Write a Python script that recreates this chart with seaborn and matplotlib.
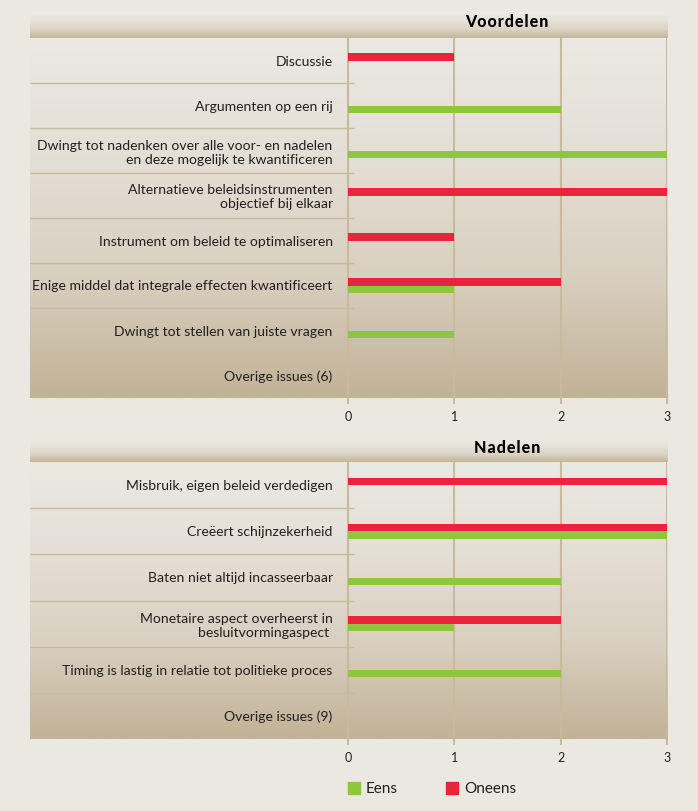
import numpy as np
import pandas as pd
import matplotlib.pyplot as plt
from matplotlib.colors import LinearSegmentedColormap
from matplotlib.patches import Patch
import seaborn as sns

voordelen_labels = [
    'Discussie',
    'Argumenten op een rij',
    'Dwingt tot nadenken over alle voor- en nadelen\nen deze mogelijk te kwantificeren',
    'Alternatieve beleidsinstrumenten\nobjectief bij elkaar',
    'Instrument om beleid te optimaliseren',
    'Enige middel dat integrale effecten kwantificeert',
    'Dwingt tot stellen van juiste vragen',
    'Overige issues (6)',
]
voordelen_eens = [0, 2, 3, 0, 0, 1, 1, 0]
voordelen_oneens = [1, 0, 0, 3, 1, 2, 0, 0]

nadelen_labels = [
    'Misbruik, eigen beleid verdedigen',
    'Creëert schijnzekerheid',
    'Baten niet altijd incasseerbaar',
    'Monetaire aspect overheerst in\nbesluitvormingaspect ',
    'Timing is lastig in relatie tot politieke proces',
    'Overige issues (9)',
]
nadelen_eens = [0, 3, 2, 1, 2, 0]
nadelen_oneens = [3, 3, 0, 2, 0, 0]

x_ticks = [0, 1, 2, 3]

W, H = 698, 811
BG = '#EAE8E1'
LINE = '#C9BA9E'
GREEN = '#8DC63F'
RED = '#E8253A'
TEXT = '#231F20'

plt.rcParams['font.family'] = ['Lato', 'DejaVu Sans']
plt.rcParams['text.color'] = TEXT

body_cmap = LinearSegmentedColormap.from_list('body', ['#EBE9E3', '#E4DFD5', '#D8CFBF', '#C2B296'])
head_cmap = LinearSegmentedColormap.from_list('head', ['#ECEAE4', '#E6E2D9', '#DBD3C4', '#C4B59A'])
grad = np.linspace(0, 1, 256).reshape(-1, 1)


def box(x0, y0, x1, y1):
    return [x0 / W, 1 - y1 / H, (x1 - x0) / W, (y1 - y0) / H]


def spaced(s):
    return '\u200a'.join(s)


fig = plt.figure(figsize=(W / 100, H / 100), dpi=100, facecolor=BG)


def draw_panel(title, labels, eens, oneens, top, row_h, head_h):
    n = len(labels)
    bottom = top + n * row_h

    # header band with title
    ax_h = fig.add_axes(box(30, top - head_h, 668, top))
    ax_h.imshow(grad, cmap=head_cmap, aspect='auto', extent=(0, 1, 0, 1))
    ax_h.axis('off')
    fig.text(507 / W, 1 - (top - head_h + 10) / H, spaced(title), ha='center', va='center',
             fontsize=11.5, fontweight='black', color='black')

    # body gradient and row separators
    ax_bg = fig.add_axes(box(30, top, 668, bottom))
    ax_bg.imshow(grad, cmap=body_cmap, aspect='auto', extent=(0, 1, n - 0.5, -0.5))
    ax_bg.set_xlim(0, 1)
    ax_bg.set_ylim(n - 0.5, -0.5)
    ax_bg.hlines(np.arange(n - 1) + 0.5, 0, (354 - 30) / 638, color=LINE, lw=1)
    ax_bg.axis('off')

    # bars
    ax = fig.add_axes(box(348, top, 667, bottom))
    df = pd.DataFrame({
        'label': labels * 2,
        'waarde': oneens + eens,
        'oordeel': ['Oneens'] * n + ['Eens'] * n,
    })
    sns.barplot(data=df, x='waarde', y='label', hue='oordeel', hue_order=['Oneens', 'Eens'],
                palette={'Eens': GREEN, 'Oneens': RED}, width=0.32, orient='h',
                saturation=1, legend=False, ax=ax, zorder=3)
    ax.set_xlim(0, 3)
    ax.set_ylim(n - 0.5, -0.5)
    ax.patch.set_alpha(0)
    ax.set_xlabel('')
    ax.set_ylabel('')
    ax.set_xticks(x_ticks)
    ax.xaxis.grid(True, color=LINE, lw=1.5)
    ax.set_axisbelow(True)
    for s in ['top', 'right', 'bottom']:
        ax.spines[s].set_visible(False)
    ax.spines['left'].set_color(LINE)
    ax.spines['left'].set_linewidth(1.5)
    ax.tick_params(axis='x', length=4.5, width=1.5, color=LINE, labelsize=9, pad=5, labelcolor=TEXT)
    ax.tick_params(axis='y', length=0, pad=11, labelsize=10.1, labelcolor=TEXT)
    return ax


draw_panel('Voordelen', voordelen_labels, voordelen_eens, voordelen_oneens, 38, 45, 26)
draw_panel('Nadelen', nadelen_labels, nadelen_eens, nadelen_oneens, 462, 46.2, 24)

fig.legend(handles=[Patch(color=GREEN, label='Eens'), Patch(color=RED, label='Oneens')],
           loc='center left', bbox_to_anchor=(334 / W, 1 - 789 / H), ncol=2, frameon=False,
           fontsize=11, handlelength=0.8, handleheight=0.8, handletextpad=0.35, columnspacing=3.2)

fig.savefig('out.png', dpi=100, facecolor=BG)
